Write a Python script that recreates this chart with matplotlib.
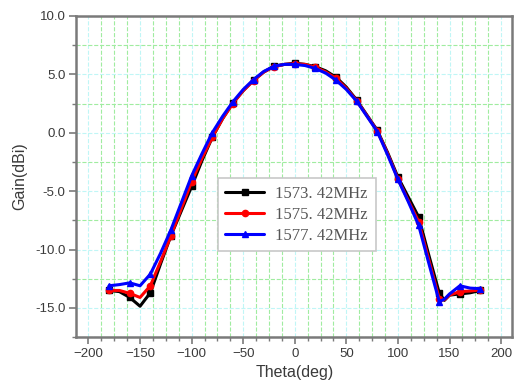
import matplotlib
matplotlib.use("Agg")
import matplotlib.pyplot as plt
from matplotlib.ticker import MultipleLocator, FormatStrFormatter

# theta in degrees (10 deg steps, plus 145 for the sharp dip)
theta = [-180, -170, -160, -150, -140, -130, -120, -110, -100, -90, -80, -70,
         -60, -50, -40, -30, -20, -10, 0, 10, 20, 30, 40, 50, 60, 70, 80, 90,
         100, 110, 120, 130, 140, 145, 150, 160, 170, 180]

gain_1573 = [-13.5, -13.6, -14.1, -14.85, -13.7, -11.2, -8.8, -6.7, -4.6, -2.4,
             -0.4, 1.2, 2.55, 3.6, 4.5, 5.2, 5.7, 5.85, 5.95, 5.85, 5.65, 5.3,
             4.75, 3.9, 2.8, 1.5, 0.2, -1.7, -3.8, -5.5, -7.2, -10.5, -13.7,
             -14.35, -13.9, -13.8, -13.7, -13.5]
gain_1575 = [-13.5, -13.5, -13.75, -14.1, -13.1, -11.0, -8.8, -6.5, -4.2, -2.2,
             -0.4, 1.2, 2.5, 3.6, 4.45, 5.2, 5.65, 5.85, 5.9, 5.85, 5.6, 5.2,
             4.65, 3.8, 2.75, 1.45, 0.15, -1.8, -3.95, -5.8, -7.6, -10.9, -14.2,
             -14.3, -13.9, -13.6, -13.55, -13.45]
gain_1577 = [-13.1, -13.0, -12.85, -13.1, -12.1, -10.3, -8.3, -6.0, -3.7, -1.8,
             0.0, 1.4, 2.65, 3.7, 4.55, 5.25, 5.7, 5.85, 5.85, 5.75, 5.5, 5.1,
             4.5, 3.7, 2.7, 1.4, 0.1, -1.9, -4.0, -5.9, -7.9, -11.2, -14.45,
             -14.25, -13.8, -13.1, -13.3, -13.35]

labels = ["1573. 42MHz", "1575. 42MHz", "1577. 42MHz"]
colors = ["black", "red", "blue"]
markers = ["s", "o", "^"]

plt.rcParams['font.family'] = ['Liberation Sans', 'DejaVu Sans']

fig = plt.figure(figsize=(5.14, 3.88), dpi=100)
ax = fig.add_axes([0.148, 0.131, 0.849, 0.828])

# markers only every 20 degrees
mark_idx = [i for i, t in enumerate(theta) if t % 20 == 0]

for g, lab, c, m in zip([gain_1573, gain_1575, gain_1577], labels, colors, markers):
    ax.plot(theta, g, color=c, lw=2.2, marker=m, markersize=4.5,
            markevery=mark_idx, label=lab, zorder=3,
            solid_joinstyle='round', solid_capstyle='round')

ax.set_xlim(-212, 211)
ax.set_ylim(-17.5, 10)
ax.xaxis.set_major_locator(MultipleLocator(50))
ax.xaxis.set_minor_locator(MultipleLocator(12.5))
ax.yaxis.set_major_locator(MultipleLocator(5))
ax.yaxis.set_minor_locator(MultipleLocator(2.5))
ax.yaxis.set_major_formatter(FormatStrFormatter('%.1f'))

ax.grid(which='major', color='#c0f6f6', ls='--', lw=0.8, zorder=0)
ax.grid(which='minor', color='#a0eca0', ls='--', lw=0.8, zorder=0)

for s in ax.spines.values():
    s.set_color('#7a7a7a')
    s.set_linewidth(1.8)

ax.tick_params(which='major', direction='out', length=5, width=1.2,
               color='#7a7a7a', labelsize=9.5, labelcolor='#3a3a3a', pad=2.5)
ax.tick_params(which='minor', direction='out', length=3, width=1.0,
               color='#7a7a7a')

ax.set_xlabel("Theta(deg)", fontsize=11.5, color='#3a3a3a', labelpad=4)
ax.set_ylabel("Gain(dBi)", fontsize=11.5, color='#3a3a3a', labelpad=6)

leg = ax.legend(loc='upper left', bbox_to_anchor=(0.325, 0.495),
                borderaxespad=0,
                prop={'family': 'Liberation Serif', 'size': 12},
                handlelength=2.3, handletextpad=0.7, fancybox=False,
                framealpha=1, edgecolor='#c8c8c8', borderpad=0.45,
                labelspacing=0.3)
leg.get_frame().set_linewidth(1.2)
for t in leg.get_texts():
    t.set_color('#555555')

fig.savefig("out.png", dpi=100)
